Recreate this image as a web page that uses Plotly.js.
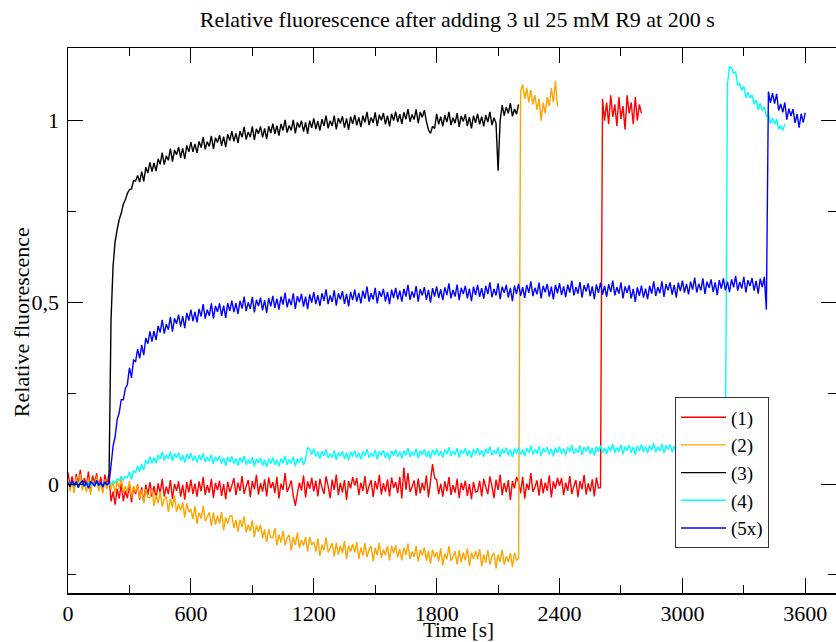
<!DOCTYPE html>
<html><head><meta charset="utf-8">
<script src="https://cdn.plot.ly/plotly-3.0.1.min.js"></script>
<style>html,body{margin:0;padding:0;background:#fff}</style>
</head><body><div id="chart" style="width:836px;height:642px"></div>
<script>
// sampling step of all series [s]
const dt = 10;
const seriesNames = ['(1)', '(2)', '(3)', '(4)', '(5x)'];
const seriesColors = ['#ff0000', '#ffa500', '#000000', '#00ffff', '#0000ff'];

// (1) red
const s1 = [
.032,-.008,.021,-.015,.027,0,.039,-.01,.017,-.004,.034,-.018,.023,.003,.029,-.013,.02,-.022,.026,-.002,
.027,-.048,-.021,-.057,-.013,-.04,.001,-.047,-.019,-.039,0,-.051,-.009,-.028,-.001,-.043,-.009,-.051,-.002,-.03,
.005,-.035,-.005,-.041,.002,-.025,.014,-.034,-.007,-.028,.011,-.041,0,-.019,.007,-.035,-.002,-.043,.005,-.023,
.012,-.028,.001,-.035,.007,-.02,.019,-.03,-.003,-.024,.014,-.038,.003,-.017,.009,-.033,0,-.042,.006,-.022,
-.004,.016,-.031,.004,-.019,.022,-.027,-.006,.011,-.036,.008,-.015,.025,-.029,.002,-.021,.013,-.034,.018,-.011,
.005,-.025,.02,-.04,.001,-.016,.03,-.022,-.008,.01,-.032,-.06,-.026,.004,-.018,.024,-.037,.007,-.013,.017,
-.02,.009,-.034,.014,-.009,-.028,.021,-.005,-.039,.012,-.016,.026,-.031,.003,-.023,.011,-.044,.008,-.012,.019,
-.004,.016,-.031,.004,-.019,.022,-.027,-.006,.011,-.036,.008,-.015,.025,-.029,.002,-.021,.013,-.034,.018,-.011,
.005,-.025,.02,-.04,.045,-.016,.03,-.022,-.008,.01,-.032,.015,-.026,.004,-.018,.024,-.037,.007,.055,.017,
.012,-.028,.001,-.035,.007,-.02,.019,-.03,-.003,-.024,.014,-.038,.003,-.017,.009,-.033,0,-.042,.006,-.022,
-.02,.009,-.034,.014,-.009,-.028,.021,-.005,-.039,.012,-.016,.026,-.031,.003,-.023,.011,-.044,.008,-.012,.019,
.005,-.025,.02,-.04,.001,-.016,.03,-.022,-.008,.01,-.032,.015,-.026,.004,-.018,.024,-.037,.007,-.013,.017,
-.004,.016,-.031,.004,-.019,.022,-.027,-.006,.011,-.036,.008,-.015,.025,-.029,.002,-.021,.013,-.034,.018,-.011,
-.01,
1.06,1.0,1.05,.99,1.07,1.01,1.045,.985,1.065,1.005,1.04,.975,1.07,1.02,1.05,.99,1.065,1.0,1.045,1.02
];

// (2) orange
const s2 = [
.015,-.02,.008,-.025,.02,-.01,.028,-.018,.005,-.022,.018,-.03,.01,-.008,.022,-.02,.006,-.026,.012,-.015,
.018,-.015,.007,-.026,.008,-.012,.018,-.025,-.006,-.022,.008,-.038,-.006,-.022,-.003,-.04,-.016,-.052,-.014,-.037,
-.038,-.011,-.06,-.03,-.053,-.021,-.062,-.041,-.034,-.077,-.041,-.065,-.032,-.076,-.055,-.073,-.05,-.092,-.053,-.077,
-.069,-.097,-.061,-.11,-.079,-.095,-.06,-.102,-.091,-.078,-.115,-.078,-.112,-.087,-.109,-.077,-.127,-.092,-.109,-.089,
-.087,-.121,-.099,-.132,-.098,-.119,-.089,-.133,-.113,-.13,-.1,-.146,-.114,-.131,-.112,-.149,-.125,-.161,-.124,-.147,
-.148,-.121,-.169,-.139,-.161,-.129,-.169,-.148,-.14,-.183,-.146,-.168,-.134,-.176,-.154,-.17,-.146,-.186,-.146,-.168,
-.159,-.186,-.15,-.198,-.167,-.182,-.147,-.188,-.177,-.163,-.2,-.162,-.195,-.169,-.19,-.157,-.206,-.17,-.186,-.165,
-.188,-.159,-.207,-.175,-.197,-.163,-.202,-.18,-.171,-.213,-.175,-.196,-.162,-.203,-.18,-.196,-.171,-.21,-.17,-.191,
-.169,-.201,-.179,-.21,-.175,-.195,-.164,-.206,-.186,-.201,-.17,-.214,-.181,-.196,-.175,-.211,-.185,-.219,-.181,-.202,
-.187,-.213,-.177,-.224,-.192,-.207,-.171,-.211,-.2,-.185,-.221,-.182,-.216,-.189,-.21,-.177,-.226,-.189,-.206,-.184,
-.207,-.179,-.226,-.194,-.216,-.182,-.222,-.199,-.19,-.232,-.194,-.215,-.181,-.222,-.199,-.215,-.19,-.229,-.189,-.21,
-.205,1.08,1.1,1.06,1.09,1.05,1.085,1.045,1.07,1.03,1.06,1.0,1.05,1.02,1.065,1.04,1.09,1.05,1.11,1.04
];

// (3) black
const s3 = [
.002,-.004,.003,-.002,.004,-.005,.001,-.003,.005,-.002,.002,-.004,.003,-.001,.004,-.003,.002,-.004,.003,-.002,.001,
.45,.6,.667,.7,.728,.745,.77,.782,.8,.81,
.812,.835,.834,.849,.831,.86,.833,.872,.856,.885,
.86,.884,.861,.895,.88,.912,.879,.903,.891,.923,
.887,.919,.906,.927,.898,.924,.895,.932,.914,.941,
.914,.936,.911,.943,.926,.955,.921,.942,.929,.958,
.922,.953,.94,.96,.931,.956,.927,.963,.945,.971,
.943,.965,.939,.971,.954,.983,.948,.969,.955,.984,
.947,.978,.964,.984,.954,.979,.949,.985,.966,.992,
.964,.986,.959,.991,.973,1.002,.967,.987,.973,1.002,
.965,.995,.981,1.0,.97,.995,.964,1.0,.98,1.006,
.977,.999,.973,1.004,.986,1.014,.979,1.0,.985,1.014,
.976,1.007,.992,1.012,.981,1.006,.975,1.011,.991,1.016,
.987,1.009,.982,1.014,.995,1.024,.988,1.009,.994,1.023,
.985,1.016,1.001,1.021,.99,1.014,.984,1.019,1.0,1.025,
.996,1.018,.991,1.023,1.004,1.032,.997,1.017,1.003,1.031,
.993,1.024,1.009,1.029,.998,.975,.965,.985,.978,1.019,
.99,1.011,.984,1.015,.996,1.024,.988,1.008,.993,1.021,
.983,1.013,.998,1.017,.986,1.01,.979,1.014,.994,1.019,
.99,1.011,.984,1.015,.996,1.024,.988,1.008,.993,.862,
1.0,1.043,1.014,1.038,1.02,1.048,1.012,1.032,1.018,1.045
];

// (4) cyan
const s4 = [
.006,-.005,.003,-.007,.004,-.003,.008,-.005,.002,-.004,.006,-.007,.004,-.002,.005,-.006,.003,-.008,.004,-.003,.002,
-.002,.008,.002,.014,.01,.021,.011,.02,.017,.034,
.012,.037,.031,.05,.034,.055,.038,.066,.055,.075,
.057,.073,.057,.08,.068,.088,.065,.08,.069,.089,
.063,.084,.072,.086,.065,.08,.059,.083,.068,.085,
.064,.078,.059,.08,.066,.085,.06,.074,.063,.081,
.055,.075,.064,.077,.056,.072,.05,.074,.06,.076,
.056,.07,.051,.072,.059,.077,.053,.067,.056,.074,
.048,.069,.058,.072,.051,.067,.046,.07,.056,.073,
.053,.067,.049,.07,.057,.077,.053,.067,.056,.075,
.049,.07,.059,.073,.052,.068,.1,.096,.081,.097,
.076,.089,.07,.09,.077,.095,.071,.084,.073,.092,
.066,.087,.076,.09,.069,.086,.065,.089,.075,.092,
.072,.086,.068,.09,.077,.096,.072,.086,.075,.094,
.068,.09,.079,.093,.072,.088,.067,.092,.078,.095,
.075,.089,.071,.092,.079,.099,.075,.089,.078,.097,
.071,.092,.081,.095,.074,.091,.07,.094,.08,.097,
.077,.091,.073,.095,.082,.101,.077,.091,.08,.099,
.073,.094,.084,.098,.077,.093,.072,.096,.082,.099,
.079,.093,.075,.097,.084,.103,.079,.093,.082,.101,
.075,.096,.085,.1,.079,.095,.074,.098,.084,.101,
.081,.095,.077,.099,.086,.105,.081,.095,.084,.103,
.077,.098,.088,.102,.081,.097,.076,.1,.086,.103,
.083,.098,.08,.101,.088,.107,.083,.097,.086,.106,
.08,.101,.09,.104,.083,.099,.078,.103,.089,.106,
.086,.1,.082,.103,.09,.11,.086,.1,.089,.108,
.082,.103,.092,.107,.086,.102,.081,.105,.091,.108,
.088,.103,.085,.106,.093,.112,.088,.102,.091,.111,
.085,.106,.095,.109,.088,.104,.083,.108,.094,.111,
.091,.105,.087,.108,.095,.115,.091,.105,.094,.113,
.087,.108,.097,.112,.091,.107,.086,.11,.096,.113,
.093,1.1,1.15,1.145,1.13,1.134,1.098,1.102,1.083,1.095,
1.063,1.078,1.062,1.071,1.045,1.056,1.03,1.048,1.028,1.038,
1.011,1.018,.992,1.008,.99,1.004,.976,.987,.973,.99
];

// (5x) blue
const s5 = [
.004,-.008,.01,-.004,.006,-.01,.002,.008,-.006,.004,-.012,.006,.002,-.006,.01,-.004,.004,-.008,.006,-.002,.002,
.05,.104,.13,.177,.196,.232,.232,.263,.274,.32,
.292,.341,.337,.371,.346,.382,.355,.402,.386,.42,
.392,.421,.396,.435,.417,.452,.414,.44,.425,.46,
.419,.456,.441,.466,.433,.462,.429,.471,.45,.48,
.448,.474,.445,.482,.461,.495,.455,.48,.463,.497,
.455,.49,.474,.497,.463,.491,.457,.498,.476,.505,
.473,.498,.468,.504,.483,.516,.476,.5,.482,.515,
.472,.507,.49,.513,.478,.506,.471,.512,.489,.518,
.485,.51,.48,.516,.494,.527,.486,.51,.492,.525,
.482,.517,.5,.523,.488,.516,.481,.522,.499,.528,
.495,.52,.49,.525,.504,.536,.495,.519,.501,.533,
.491,.525,.508,.531,.496,.523,.489,.529,.506,.535,
.502,.526,.497,.532,.51,.543,.502,.525,.508,.54,
.497,.531,.515,.537,.502,.529,.495,.535,.512,.54,
.508,.532,.502,.537,.516,.548,.507,.53,.513,.545,
.502,.536,.519,.542,.507,.534,.499,.539,.516,.544,
.512,.536,.506,.541,.52,.552,.511,.534,.516,.549,
.506,.54,.523,.545,.511,.538,.503,.543,.52,.548,
.515,.539,.51,.545,.523,.555,.514,.537,.519,.552,
.509,.543,.526,.548,.513,.54,.503,.546,.523,.551,
.518,.542,.512,.548,.526,.558,.517,.54,.522,.554,
.511,.545,.528,.551,.516,.543,.508,.548,.525,.553,
.52,.544,.514,.549,.527,.56,.519,.542,.524,.556,
.513,.547,.53,.552,.517,.544,.509,.549,.526,.554,
.521,.545,.515,.55,.528,.56,.519,.542,.524,.555,
.511,.544,.526,.547,.511,.537,.501,.541,.518,.546,
.513,.538,.509,.545,.524,.558,.518,.542,.525,.558,
.515,.55,.533,.555,.521,.548,.513,.554,.531,.56,
.527,.551,.522,.557,.535,.568,.527,.551,.533,.566,
.523,.557,.54,.563,.528,.555,.52,.561,.538,.566,
.533,.557,.528,.563,.541,.573,.532,.556,.538,.57,
.527,.561,.545,.567,.532,.559,.524,.565,.542,.57,
.48,1.08,1.049,1.076,1.047,1.074,1.028,1.046,1.023,1.05,
1.003,1.033,1.013,1.032,.994,1.018,.981,1.019,.995,1.022
];

const xTickVals = [0, 600, 1200, 1800, 2400, 3000, 3600];
const yTickVals = [0, 0.5, 1];
const yTickText = ['0', '0,5', '1'];

const FONT = '"Liberation Serif", "Times New Roman", serif';
const allSeries = [s1, s2, s3, s4, s5];
const traces = allSeries.map((vals, k) => ({
  type: 'scatter',
  mode: 'lines',
  name: seriesNames[k],
  x: vals.map((_, i) => i * dt),
  y: vals,
  line: {color: seriesColors[k], width: 1.4, simplify: false},
  hoverinfo: 'skip'
}));

const axisCommon = {
  showgrid: false, zeroline: false,
  showline: true, linecolor: '#000', linewidth: 1.5,
  mirror: 'ticks', ticks: 'inside', ticklen: 15, tickwidth: 1, tickcolor: '#000',
  tickfont: {family: FONT, size: 22, color: '#000'}
};

const layout = {
  width: 836, height: 642,
  margin: {l: 68, r: 0, t: 48, b: 49},
  paper_bgcolor: '#fff', plot_bgcolor: '#fff',
  font: {family: FONT, size: 22, color: '#000'},
  title: {text: 'Relative fluorescence after adding 3 ul 25 mM R9 at 200 s',
          font: {family: FONT, size: 22, color: '#000'},
          xref: 'container', x: 0.547, xanchor: 'center',
          yref: 'container', y: 0.970, yanchor: 'middle'},
  xaxis: Object.assign({}, axisCommon, {
    range: [0, 3750], tickmode: 'array', tickvals: xTickVals,
    minor: {tickmode: 'linear', tick0: 0, dtick: 300, ticks: 'inside', ticklen: 8, tickwidth: 1, tickcolor: '#000'}
  }),
  yaxis: Object.assign({}, axisCommon, {
    range: [-0.3, 1.2], tickmode: 'array', tickvals: yTickVals, ticktext: yTickText,
    ticklabelstandoff: 3,
    minor: {tickmode: 'linear', tick0: 0, dtick: 0.25, ticks: 'inside', ticklen: 8, tickwidth: 1, tickcolor: '#000'}
  }),
  showlegend: true,
  legend: {x: 0.7904, y: 0.359, xanchor: 'left', yanchor: 'top',
           bgcolor: '#fff', bordercolor: '#333', borderwidth: 1,
           font: {family: FONT, size: 19, color: '#000'}, itemwidth: 45, tracegroupgap: 0},
  annotations: [
    {text: 'Time [s]', xref: 'paper', yref: 'paper', x: 0.508, y: -0.068,
     xanchor: 'center', yanchor: 'middle', showarrow: false,
     font: {family: FONT, size: 21, color: '#000'}},
    {text: 'Relative fluorescence', xref: 'paper', yref: 'paper', x: -0.0612, y: 0.497,
     xanchor: 'center', yanchor: 'middle', showarrow: false, textangle: -90,
     font: {family: FONT, size: 22, color: '#000'}}
  ]
};

Plotly.newPlot('chart', traces, layout, {displayModeBar: false, staticPlot: true});
</script>
</body></html>
